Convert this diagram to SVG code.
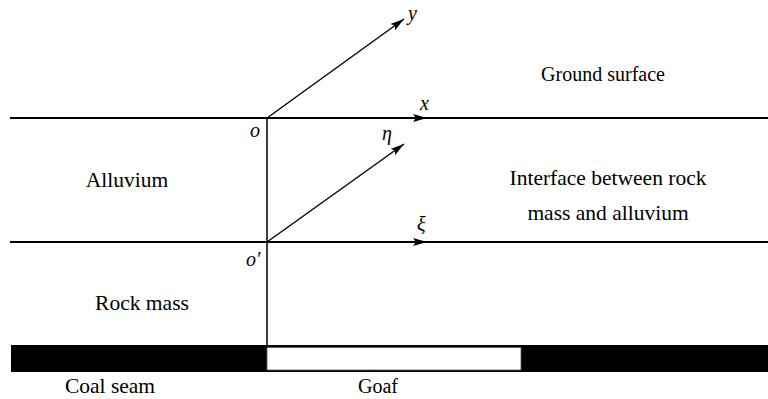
<svg xmlns="http://www.w3.org/2000/svg" width="768" height="399" viewBox="0 0 768 399">
<style>
text{font-family:'Liberation Serif','Times New Roman',serif;font-size:21.5px;fill:#000}
.it{font-style:italic;font-size:20px}
.s20{font-size:20px}
.ln{stroke:#000;fill:none}
</style>
<defs>
<marker id="ah" viewBox="0 0 14 8" refX="14" refY="4" markerWidth="14" markerHeight="8" markerUnits="userSpaceOnUse" orient="auto">
<path d="M0,0 L14,4 L0,8 L3,4 Z" fill="#000"/>
</marker>
</defs>
<rect width="768" height="399" fill="#fff"/>
<g id="connectors">
<line class="ln" x1="10" y1="118" x2="768" y2="118" stroke-width="2.2"/>
<line class="ln" x1="10" y1="242" x2="768" y2="242" stroke-width="2.2"/>
<line class="ln" x1="267" y1="118" x2="267" y2="346" stroke-width="1.5"/>
<line class="ln" x1="267" y1="118" x2="427" y2="118" stroke-width="2.2" marker-end="url(#ah)"/>
<line class="ln" x1="267" y1="242" x2="427" y2="242" stroke-width="2.2" marker-end="url(#ah)"/>
<line class="ln" x1="267" y1="118" x2="404" y2="19" stroke-width="1.4" marker-end="url(#ah)"/>
<line class="ln" x1="267" y1="242" x2="404" y2="144" stroke-width="1.4" marker-end="url(#ah)"/>
</g>
<g id="coal-seam">
<rect x="11" y="345" width="757" height="27" fill="#000"/>
<text x="110" y="393" text-anchor="middle">Coal seam</text>
</g>
<g id="goaf">
<rect x="267" y="347.5" width="254" height="22.5" fill="#fff" stroke="#555" stroke-width="0.8"/>
<text class="s20" x="378" y="393" text-anchor="middle">Goaf</text>
</g>
<g id="ground-surface"><text class="s20" x="603" y="81" text-anchor="middle">Ground surface</text></g>
<g id="alluvium"><text x="127" y="187" text-anchor="middle">Alluvium</text></g>
<g id="interface">
<text x="608" y="185" text-anchor="middle">Interface between rock</text>
<text x="608" y="220" text-anchor="middle">mass and alluvium</text>
</g>
<g id="rock-mass"><text x="142" y="310" text-anchor="middle">Rock mass</text></g>
<g id="axis-labels">
<text class="it" x="408" y="20">y</text>
<text class="it" x="420" y="110">x</text>
<text class="it" x="382" y="140">η</text>
<text class="it" x="417" y="231">ξ</text>
<text class="it" x="250" y="137">o</text>
<text class="it" x="246" y="266">o′</text>
</g>
</svg>
